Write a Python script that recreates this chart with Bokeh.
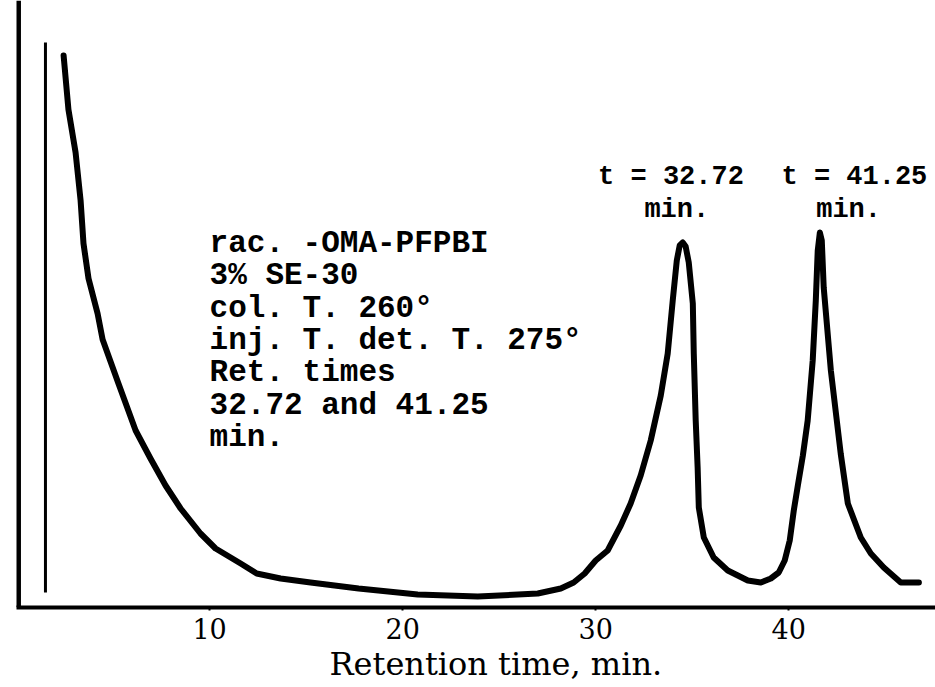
from bokeh.plotting import figure
from bokeh.models import Range1d, Span, Title, FixedTicker, ColumnDataSource
from bokeh.core.properties import value
from bokeh.embed import file_html
from bokeh.resources import INLINE

# ---- data (time in min, detector response in arbitrary units)
curve_time = [2.44, 2.69, 3.06, 3.32, 3.47, 3.73, 4.20, 4.46, 4.87, 5.28,
              6.17, 6.94, 7.72, 8.50, 9.53, 10.31, 11.61, 12.44, 13.68, 15.23,
              17.72, 20.78, 23.89, 27.00, 28.19, 28.86, 29.43, 30.00, 30.62, 31.30,
              31.81, 32.33, 32.85, 33.37, 33.73, 33.99, 34.20, 34.35, 34.51, 34.66,
              34.82, 35.03, 35.08, 35.18, 35.28, 35.34, 35.60, 36.11, 36.84, 37.88,
              38.55, 39.07, 39.48, 39.79, 40.05, 40.26, 40.47, 40.73, 40.98, 41.24,
              41.40, 41.50, 41.61, 41.71, 41.81, 42.18, 42.69, 43.06, 43.73, 44.25,
              44.92, 45.80, 46.74]
curve_signal = [55.2, 49.8, 45.5, 40.7, 36.4, 32.9, 29.4, 26.8, 24.6, 22.4,
                17.7, 14.9, 12.2, 9.9, 7.4, 5.9, 4.4, 3.4, 2.9, 2.5,
                1.9, 1.3, 1.1, 1.4, 1.9, 2.5, 3.4, 4.7, 5.7, 8.2,
                10.4, 13.2, 16.7, 21.2, 25.4, 30.7, 34.7, 36.2, 36.5, 36.1,
                34.5, 30.4, 25.4, 18.7, 14.0, 10.0, 7.0, 5.0, 3.7, 2.7,
                2.5, 2.9, 3.5, 4.7, 6.7, 9.7, 12.2, 15.2, 18.7, 24.7,
                30.7, 35.7, 37.5, 36.7, 32.0, 23.7, 15.4, 10.4, 7.0, 5.4,
                4.0, 2.5, 2.5]

# injection marker (time, bottom, top)
inj_time = [1.5]
inj_bottom = [1.5]
inj_top = [56.5]

tick_values = [10, 20, 30, 40]
tick_labels = ["10", "20", "30", "40"]

x_title = "Retention time, min."
info_lines = ["rac. -OMA-PFPBI", "3% SE-30", "col. T. 260\u00b0",
              "inj. T. det. T. 275\u00b0", "Ret. times", "32.72 and 41.25", "min."]
peak_label_lines = ["t = 32.72", "min.", "t = 41.25", "min."]

# ---- figure
p = figure(width=935, height=687, output_backend="svg", toolbar_location=None,
           x_range=Range1d(0, 47.6), y_range=Range1d(0, 60.7),
           y_axis_location=None,
           min_border_left=16, min_border_right=0, min_border_top=0,
           min_border_bottom=80)
p.outline_line_color = None
p.grid.visible = False
p.background_fill_color = "white"
p.border_fill_color = "white"

ax = p.xaxis[0]
ax.ticker = FixedTicker(ticks=tick_values)
ax.major_label_overrides = {v: s for v, s in zip(tick_values, tick_labels)}
ax.axis_line_width = 4
ax.axis_line_color = "black"
ax.major_tick_line_width = 2
ax.major_tick_line_color = "black"
ax.major_tick_in = 0
ax.major_tick_out = 3
ax.minor_tick_in = 0
ax.minor_tick_out = 0
ax.major_label_standoff = 7
ax.major_label_text_font = "DejaVu Serif"
ax.major_label_text_font_size = "27px"
ax.major_label_text_color = "black"

# axis title, placed below the tick labels
p.add_layout(Title(text=x_title, align="left", offset=313, standoff=2,
                   text_font="DejaVu Serif", text_font_size="32px",
                   text_font_style="normal", text_color="black"), "below")

# left (signal) axis line
p.add_layout(Span(location=0.05, dimension="height", line_color="black", line_width=7))

# injection marker
p.segment(x0=inj_time, y0=inj_bottom, x1=inj_time, y1=inj_top,
          line_color="black", line_width=3)

# chromatogram trace
p.line(curve_time, curve_signal, line_color="black", line_width=6,
       line_join="round", line_cap="round")

# info block
n = len(info_lines)
info_src = ColumnDataSource(dict(x=[10.0] * n,
                                 y=[36.4 - 3.23 * i for i in range(n)],
                                 t=info_lines))
p.text(x="x", y="y", text="t", source=info_src,
       text_font=value("Liberation Mono"), text_font_style="bold",
       text_font_size="31px", text_color="black",
       text_align="left", text_baseline="middle")

# peak labels
pk_src = ColumnDataSource(dict(x=[33.9, 34.2, 43.4, 43.1],
                               y=[43.1, 39.8, 43.1, 39.8],
                               t=peak_label_lines))
p.text(x="x", y="y", text="t", source=pk_src,
       text_font=value("Liberation Mono"), text_font_style="bold",
       text_font_size="27px", text_color="black",
       text_align="center", text_baseline="middle")

open("out.html", "w").write(file_html(p, INLINE))
